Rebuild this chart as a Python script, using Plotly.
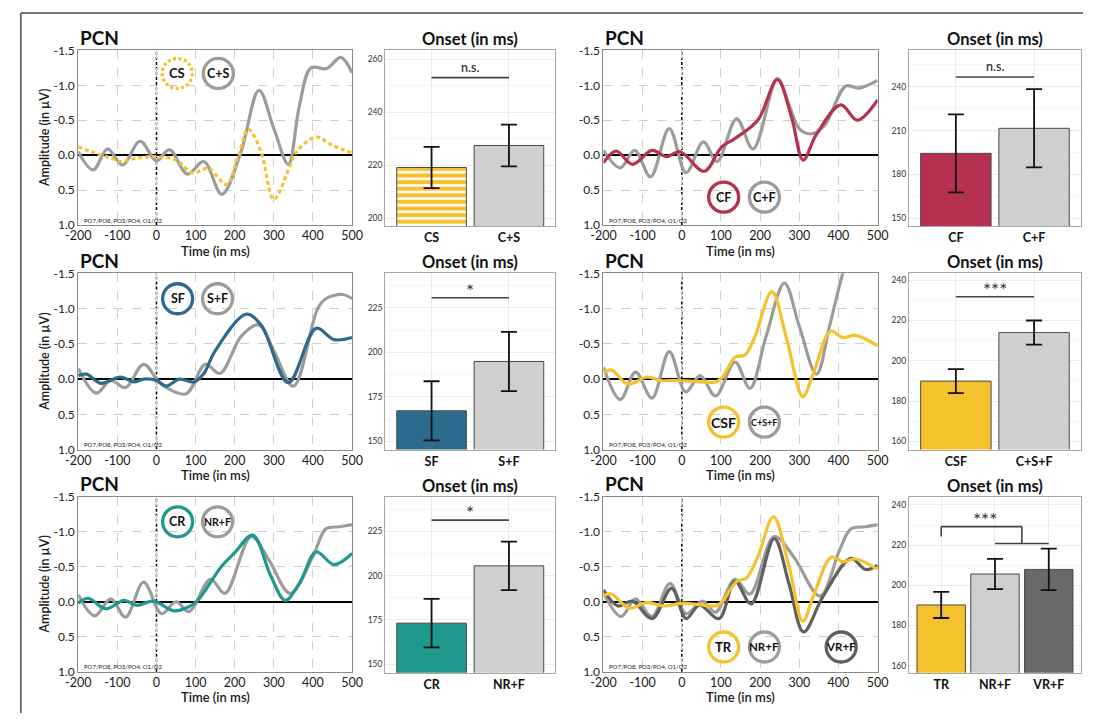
import plotly.graph_objects as go

# the plot fills the whole 1094x720 page
W, H = 1094, 720

# ---------------- PCN difference waves (time in ms, amplitude in µV) ----------------
# CS vs C+S
t_cs = [-200, -167, -117, -92, -50, 0, 50, 92, 133, 179, 208, 235, 267, 300, 342, 358, 408, 450, 500]
v_cs = [-0.12, -0.05, 0.04, 0.09, 0.04, 0.02, 0.07, 0.25, 0.19, 0.42, 0.04, -0.37, -0.05, 0.63, 0.14, -0.05, -0.26, -0.14, -0.03]
t_c_s = [-200, -162, -125, -87, -42, 0, 33, 79, 121, 167, 215, 262, 300, 337, 365, 395, 435, 471, 500]
v_c_s = [-0.05, 0.21, -0.09, 0.14, -0.2, 0.08, -0.08, 0.27, 0.09, 0.56, -0.03, -0.93, -0.38, 0.13, -0.7, -1.25, -1.24, -1.4, -1.18]

# CF vs C+F
t_cf = [-200, -168, -126, -76, -39, -4, 57, 102, 136, 194, 244, 280, 310, 343, 406, 448, 500]
v_cf = [0.11, -0.06, 0.13, -0.07, 0.02, -0.05, 0.23, -0.12, -0.24, -0.5, -1.08, -0.55, 0.07, -0.29, -0.72, -0.5, -0.79]
t_c_f = [-200, -157, -120, -80, -32, 11, 55, 90, 140, 182, 244, 275, 303, 335, 365, 419, 452, 500]
v_c_f = [-0.07, 0.18, -0.07, 0.31, -0.38, 0.25, -0.19, 0.09, -0.52, -0.09, -1.1, -0.7, -0.36, -0.31, -0.43, -0.99, -0.96, -1.07]

# SF vs S+F
t_sf = [-200, -179, -142, -92, -58, -33, 0, 25, 58, 96, 121, 150, 229, 267, 337, 408, 454, 500]
v_sf = [-0.05, -0.07, 0.06, -0.03, 0.04, 0.0, 0.02, 0.1, 0.0, 0.04, -0.08, -0.4, -0.92, -0.77, 0.05, -0.72, -0.56, -0.59]
t_s_f = [-200, -154, -117, -79, -33, 12, 75, 125, 162, 217, 262, 300, 350, 412, 433, 475, 500]
v_s_f = [-0.15, 0.2, 0.02, 0.12, -0.21, 0.07, 0.21, -0.21, -0.08, -0.61, -0.77, -0.4, 0.1, -1.0, -1.14, -1.2, -1.14]

# CSF vs C+S+F
t_csf = [-200, -180, -138, -88, -55, -14, 28, 86, 103, 136, 161, 186, 230, 269, 309, 336, 380, 411, 444, 500]
v_csf = [-0.09, -0.13, 0.07, -0.03, 0.02, 0.02, 0.03, 0.04, -0.02, -0.31, -0.34, -0.59, -1.24, -0.54, 0.25, -0.08, -0.68, -0.59, -0.62, -0.47]
t_c_s_f = [-200, -157, -118, -76, -32, 10, 47, 86, 136, 174, 215, 262, 300, 344, 378, 411, 440, 500]
v_c_s_f = [-0.17, 0.29, -0.1, 0.27, -0.39, 0.18, -0.05, 0.24, -0.24, 0.13, -0.6, -1.36, -0.75, -0.07, -0.77, -1.5, -2.0, -2.3]

# CR vs NR+F
t_cr = [-200, -175, -129, -83, -50, -8, 46, 83, 104, 167, 200, 246, 292, 329, 367, 408, 454, 500]
v_cr = [0.02, -0.05, 0.1, -0.02, 0.05, -0.01, 0.13, 0.07, -0.01, -0.51, -0.7, -0.95, -0.37, -0.02, -0.28, -0.71, -0.53, -0.69]
t_nr_f_a = [-200, -158, -117, -79, -33, 13, 50, 83, 138, 175, 242, 287, 342, 400, 433, 467, 500]
v_nr_f_a = [-0.1, 0.2, -0.04, 0.22, -0.28, 0.17, 0.0, 0.14, -0.32, -0.12, -0.93, -0.6, -0.12, -0.65, -1.04, -1.07, -1.1]

# TR vs NR+F vs VR+F
t_tr = [-200, -180, -134, -88, -47, 3, 45, 86, 103, 140, 165, 194, 234, 274, 309, 336, 382, 411, 444, 500]
v_tr = [-0.09, -0.11, 0.09, 0.01, 0.06, 0.02, 0.04, 0.06, 0.0, -0.29, -0.34, -0.64, -1.21, -0.5, 0.28, -0.08, -0.64, -0.57, -0.61, -0.46]
t_nr_f_b = [-200, -155, -118, -76, -30, 11, 53, 86, 136, 174, 236, 286, 353, 403, 432, 469, 500]
v_nr_f_b = [-0.13, 0.21, -0.04, 0.21, -0.26, 0.17, -0.01, 0.15, -0.32, -0.11, -0.93, -0.64, -0.08, -0.74, -1.04, -1.07, -1.1]
t_vr_f = [-200, -163, -126, -76, -26, 11, 45, 95, 136, 177, 236, 274, 311, 361, 432, 469, 500]
v_vr_f = [-0.17, 0.06, -0.01, 0.24, -0.19, 0.24, 0.05, 0.24, -0.29, 0.03, -0.9, -0.25, 0.43, -0.08, -0.62, -0.46, -0.52]

# ---------------- PCN onset latencies (ms): mean and error half-width ----------------
onset_cs_cats = ["CS", "C+S"]
onset_cs_mean = [219.2, 227.5]
onset_cs_err = [7.8, 7.9]

onset_cf_cats = ["CF", "C+F"]
onset_cf_mean = [194.4, 211.6]
onset_cf_err = [26.7, 26.8]

onset_sf_cats = ["SF", "S+F"]
onset_sf_mean = [167.2, 194.9]
onset_sf_err = [16.6, 16.6]

onset_csf_cats = ["CSF", "C+S+F"]
onset_csf_mean = [189.9, 214.0]
onset_csf_err = [6.0, 6.0]

onset_cr_cats = ["CR", "NR+F"]
onset_cr_mean = [173.1, 205.5]
onset_cr_err = [13.7, 13.7]

onset_tr_cats = ["TR", "NR+F", "VR+F"]
onset_tr_mean = [190.2, 205.6, 207.9]
onset_tr_err = [6.5, 7.5, 10.3]

# ---------------- colours ----------------
YELLOW = "#F5C22E"
CRIMSON = "#B6304F"
BLUE = "#2C6A8E"
TEAL = "#1F998E"
GRAY = "#9C9C9C"
DARKGRAY = "#606060"
BAR_GRAY = "#CFCFCF"
BAR_DARK = "#696969"
FONT = "Lato"

# ---------------- layout geometry (page pixels) ----------------
ERP_X = {"L": (66.7, 346.7), "R": (603.7, 884.0)}
ERP_Y = [(43.3, 221.7), (271.0, 451.0), (499.0, 678.0)]
BAR_X = {"L": (380.5, 554.5), "R": (916.0, 1092.0)}
BAR_Y = [(43.0, 223.0), (271.0, 451.0), (499.5, 679.0)]


def px(X):
    return X / W


def py(Y):
    return 1 - Y / H


def xd(p0, p1):
    return [px(p0), px(p1)]


def yd(p0, p1):
    return [py(p1), py(p0)]


def names(i):
    s = "" if i == 1 else str(i)
    return "xaxis" + s, "yaxis" + s, "x" + s, "y" + s


fig = go.Figure()
layout = {}
shapes = []
annotations = []

erp_panels = [
    dict(col="L", row=0,
         series=[(t_c_s, v_c_s, GRAY, "solid"), (t_cs, v_cs, YELLOW, "dot")],
         rings=[("CS", 53, -1.17, YELLOW, "dot", 13), ("C+S", 158, -1.17, GRAY, "solid", 12.5)]),
    dict(col="R", row=0,
         series=[(t_c_f, v_c_f, GRAY, "solid"), (t_cf, v_cf, CRIMSON, "solid")],
         rings=[("CF", 107, 0.6, CRIMSON, "solid", 12.5), ("C+F", 211, 0.6, GRAY, "solid", 12.5)]),
    dict(col="L", row=1,
         series=[(t_s_f, v_s_f, GRAY, "solid"), (t_sf, v_sf, BLUE, "solid")],
         rings=[("SF", 54, -1.14, BLUE, "solid", 12.5), ("S+F", 156, -1.14, GRAY, "solid", 12.5)]),
    dict(col="R", row=1,
         series=[(t_c_s_f, v_c_s_f, GRAY, "solid"), (t_csf, v_csf, YELLOW, "solid")],
         rings=[("CSF", 107, 0.61, YELLOW, "solid", 14), ("C+S+F", 211, 0.61, GRAY, "solid", 9)]),
    dict(col="L", row=2,
         series=[(t_nr_f_a, v_nr_f_a, GRAY, "solid"), (t_cr, v_cr, TEAL, "solid")],
         rings=[("CR", 54, -1.14, TEAL, "solid", 12.5), ("NR+F", 156, -1.14, GRAY, "solid", 10.5)]),
    dict(col="R", row=2,
         series=[(t_nr_f_b, v_nr_f_b, GRAY, "solid"), (t_vr_f, v_vr_f, DARKGRAY, "solid"),
                 (t_tr, v_tr, YELLOW, "solid")],
         rings=[("TR", 107, 0.645, YELLOW, "solid", 13), ("NR+F", 211, 0.645, GRAY, "solid", 11.5),
                ("VR+F", 407, 0.645, DARKGRAY, "solid", 11.5)]),
]

xt = [-200, -100, 0, 100, 200, 300, 400, 500]
yt = [-1.5, -1.0, -0.5, 0.0, 0.5, 1.0]

for k, p in enumerate(erp_panels):
    i = k + 1
    xa, ya, xr, yr = names(i)
    px0, px1 = ERP_X[p["col"]]
    py0, py1 = ERP_Y[p["row"]]
    layout[xa] = dict(domain=xd(px0, px1), range=[-200, 500], anchor=yr,
                      tickvals=xt, ticktext=[str(v) for v in xt],
                      showgrid=True, gridcolor="#cfcfcf", griddash="dash", gridwidth=1,
                      showline=True, mirror=True, linecolor="#8a8a8a", linewidth=1,
                      zeroline=False, ticks="", ticklabelstandoff=-1,
                      tickfont=dict(family=FONT, size=12.5, color="#1a1a1a"))
    layout[ya] = dict(domain=yd(py0, py1), range=[1.0, -1.5], anchor=xr,
                      tickvals=yt, ticktext=["%.1f" % v for v in yt],
                      showgrid=True, gridcolor="#cfcfcf", griddash="dash", gridwidth=1,
                      showline=True, mirror=True, linecolor="#8a8a8a", linewidth=1,
                      zeroline=True, zerolinecolor="black", zerolinewidth=1.6, ticks="",
                      tickfont=dict(family=FONT, size=12, color="#1a1a1a"))
    for t, v, c, d in p["series"]:
        fig.add_trace(go.Scatter(x=t, y=v, xaxis=xr, yaxis=yr, mode="lines",
                                 line=dict(color=c, width=3.2, shape="spline", smoothing=1.0,
                                           dash="4px,3px" if d == "dot" else "solid"),
                                 hoverinfo="skip"))
    # stimulus onset marker
    shapes.append(dict(type="line", xref=xr, yref=yr, x0=0, x1=0, y0=1.0, y1=-1.5,
                       line=dict(color="black", width=1.5, dash="3px,2px"), layer="below"))
    # condition badges
    for label, cx, cy, col, d, fs in p["rings"]:
        shapes.append(dict(type="circle", xref=xr, yref=yr, xsizemode="pixel", ysizemode="pixel",
                           xanchor=cx, yanchor=cy, x0=-15, x1=15, y0=-15, y1=15,
                           fillcolor="rgba(255,255,255,0)",
                           line=dict(color=col, width=3.3, dash="3px,2.5px" if d == "dot" else "solid")))
        annotations.append(dict(xref=xr, yref=yr, x=cx, y=cy, text="<b>%s</b>" % label,
                                showarrow=False, font=dict(family=FONT, size=fs, color="#111")))
    # panel texts
    annotations.append(dict(xref="paper", yref="paper", x=px(px0), y=py(py0 - 13),
                            xanchor="left", yanchor="middle", text="<b>PCN</b>", showarrow=False,
                            font=dict(family=FONT, size=19, color="#111")))
    annotations.append(dict(xref="paper", yref="paper", x=px((px0 + px1) / 2), y=py(py1 + 26),
                            xanchor="center", yanchor="middle", text="Time (in ms)", showarrow=False,
                            font=dict(family=FONT, size=13, color="#1a1a1a", weight=600)))
    annotations.append(dict(xref="paper", yref="paper", x=px(px0 + 3.5), y=py(py1 - 5),
                            xanchor="left", yanchor="middle", text="PO7/PO8, PO3/PO4, O1/O2",
                            showarrow=False, font=dict(family=FONT, size=6, color="#222")))
    if p["col"] == "L":
        annotations.append(dict(xref="paper", yref="paper", x=px(32), y=py((py0 + py1) / 2),
                                xanchor="center", yanchor="middle", textangle=-90,
                                text="Amplitude (in µV)", showarrow=False,
                                font=dict(family=FONT, size=12.5, color="#1a1a1a", weight=600)))

bar_panels = [
    dict(col="L", row=0, cats=onset_cs_cats, mean=onset_cs_mean, err=onset_cs_err,
         colors=[YELLOW, BAR_GRAY], striped=[True, False], yrange=[197, 263.5], dtick=20,
         sig=[("n.s.", 0, 1, 253.1)]),
    dict(col="R", row=0, cats=onset_cf_cats, mean=onset_cf_mean, err=onset_cf_err,
         colors=[CRIMSON, BAR_GRAY], striped=[False, False], yrange=[144.4, 265.2], dtick=30,
         sig=[("n.s.", 0, 1, 246.8)]),
    dict(col="L", row=1, cats=onset_sf_cats, mean=onset_sf_mean, err=onset_sf_err,
         colors=[BLUE, BAR_GRAY], striped=[False, False], yrange=[145.4, 244.4], dtick=25,
         sig=[("*", 0, 1, 230.7)]),
    dict(col="R", row=1, cats=onset_csf_cats, mean=onset_csf_mean, err=onset_csf_err,
         colors=[YELLOW, BAR_GRAY], striped=[False, False], yrange=[155.9, 243.4], dtick=20,
         sig=[("***", 0, 1, 231.8)]),
    dict(col="L", row=2, cats=onset_cr_cats, mean=onset_cr_mean, err=onset_cr_err,
         colors=[TEAL, BAR_GRAY], striped=[False, False], yrange=[145.0, 244.4], dtick=25,
         sig=[("*", 0, 1, 231.4)]),
    dict(col="R", row=2, cats=onset_tr_cats, mean=onset_tr_mean, err=onset_tr_err,
         colors=[YELLOW, BAR_GRAY, BAR_DARK], striped=[False, False, False],
         yrange=[156.4, 243.9], dtick=20, sig=[]),
]

for k, b in enumerate(bar_panels):
    i = k + 7
    xa, ya, xr, yr = names(i)
    px0, px1 = BAR_X[b["col"]]
    py0, py1 = BAR_Y[b["row"]]
    n = len(b["cats"])
    layout[xa] = dict(domain=xd(px0, px1), range=[-0.6, n - 0.4], anchor=yr,
                      tickvals=list(range(n)), ticktext=["<b>%s</b>" % c for c in b["cats"]],
                      showgrid=True, gridcolor="#ebebeb", gridwidth=1,
                      showline=True, mirror=True, linecolor="#a8a8a8", linewidth=1,
                      zeroline=False, ticks="",
                      tickfont=dict(family=FONT, size=12.5, color="#111"))
    layout[ya] = dict(domain=yd(py0, py1), range=b["yrange"], anchor=xr,
                      tick0=0, dtick=b["dtick"],
                      showgrid=True, gridcolor="#ebebeb", gridwidth=1,
                      minor=dict(tick0=0, dtick=b["dtick"] / 2, showgrid=True,
                                 gridcolor="#f5f5f5", gridwidth=1),
                      showline=True, mirror=True, linecolor="#a8a8a8", linewidth=1,
                      zeroline=False, ticks="",
                      tickfont=dict(family=FONT, size=8.5, color="#333"))
    for j in range(n):
        marker = dict(color=b["colors"][j], line=dict(color="#4a4a4a", width=1))
        if b["striped"][j]:
            marker["pattern"] = dict(shape="-", fgcolor="white", bgcolor=b["colors"][j],
                                     size=6.6, solidity=0.38, fillmode="replace")
        fig.add_trace(go.Bar(x=[j], y=[b["mean"][j]], xaxis=xr, yaxis=yr, width=0.9,
                             base=0, marker=marker,
                             error_y=dict(type="data", array=[b["err"][j]], color="#111",
                                          thickness=1.8, width=8),
                             hoverinfo="skip"))
    for txt, a0, a1, yv in b["sig"]:
        shapes.append(dict(type="line", xref=xr, yref=yr, x0=a0, x1=a1, y0=yv, y1=yv,
                           line=dict(color="#444", width=1.6)))
        ns = txt == "n.s."
        annotations.append(dict(xref=xr, yref=yr, x=(a0 + a1) / 2, y=yv, yanchor="bottom",
                                yshift=1 if ns else -6, text=txt, showarrow=False,
                                font=dict(family=FONT, size=12.5 if ns else 19,
                                          color="#333", weight=600 if ns else 400)))
    annotations.append(dict(xref="paper", yref="paper", x=px((px0 + px1) / 2),
                            y=py(py0 - 11.5), xanchor="center", yanchor="middle",
                            text="Onset (in ms)", showarrow=False,
                            font=dict(family=FONT, size=16.5, color="#111", weight=700)))

# TR versus (NR+F, VR+F) bracket
xr, yr = "x12", "y12"
bracket = [(0, 224.3, 0, 229.2), (0, 229.2, 1.5, 229.2), (1.5, 229.2, 1.5, 220.8), (1, 220.8, 2, 220.8)]
for x0, y0, x1, y1 in bracket:
    shapes.append(dict(type="line", xref=xr, yref=yr, x0=x0, y0=y0, x1=x1, y1=y1,
                       line=dict(color="#444", width=1.6)))
annotations.append(dict(xref=xr, yref=yr, x=0.82, y=229.2, yanchor="bottom", yshift=-6,
                        text="***", showarrow=False, font=dict(family=FONT, size=19, color="#333")))

# outer frame of the figure (top and left edges)
frame = dict(color="#4d4d4d", width=1.5)
shapes.append(dict(type="line", xref="paper", yref="paper", x0=px(8), x1=1.0,
                   y0=py(5), y1=py(5), line=frame, layer="below"))
shapes.append(dict(type="line", xref="paper", yref="paper", x0=px(8), x1=px(8),
                   y0=0.0, y1=py(5), line=frame, layer="below"))

fig.update_layout(**layout)
fig.update_layout(autosize=True,
                  margin=dict(l=0, r=0, t=0, b=0),
                  paper_bgcolor="white", plot_bgcolor="white",
                  showlegend=False, barmode="overlay",
                  font=dict(family=FONT),
                  shapes=shapes, annotations=annotations)

# full-window div; page margin removed once the plot is drawn
fig.write_html("out.html",
               default_width="100vw", default_height="100vh",
               post_script="document.body.style.margin='0px';"
                           "document.body.style.overflow='hidden';"
                           "document.documentElement.style.overflow='hidden';")
